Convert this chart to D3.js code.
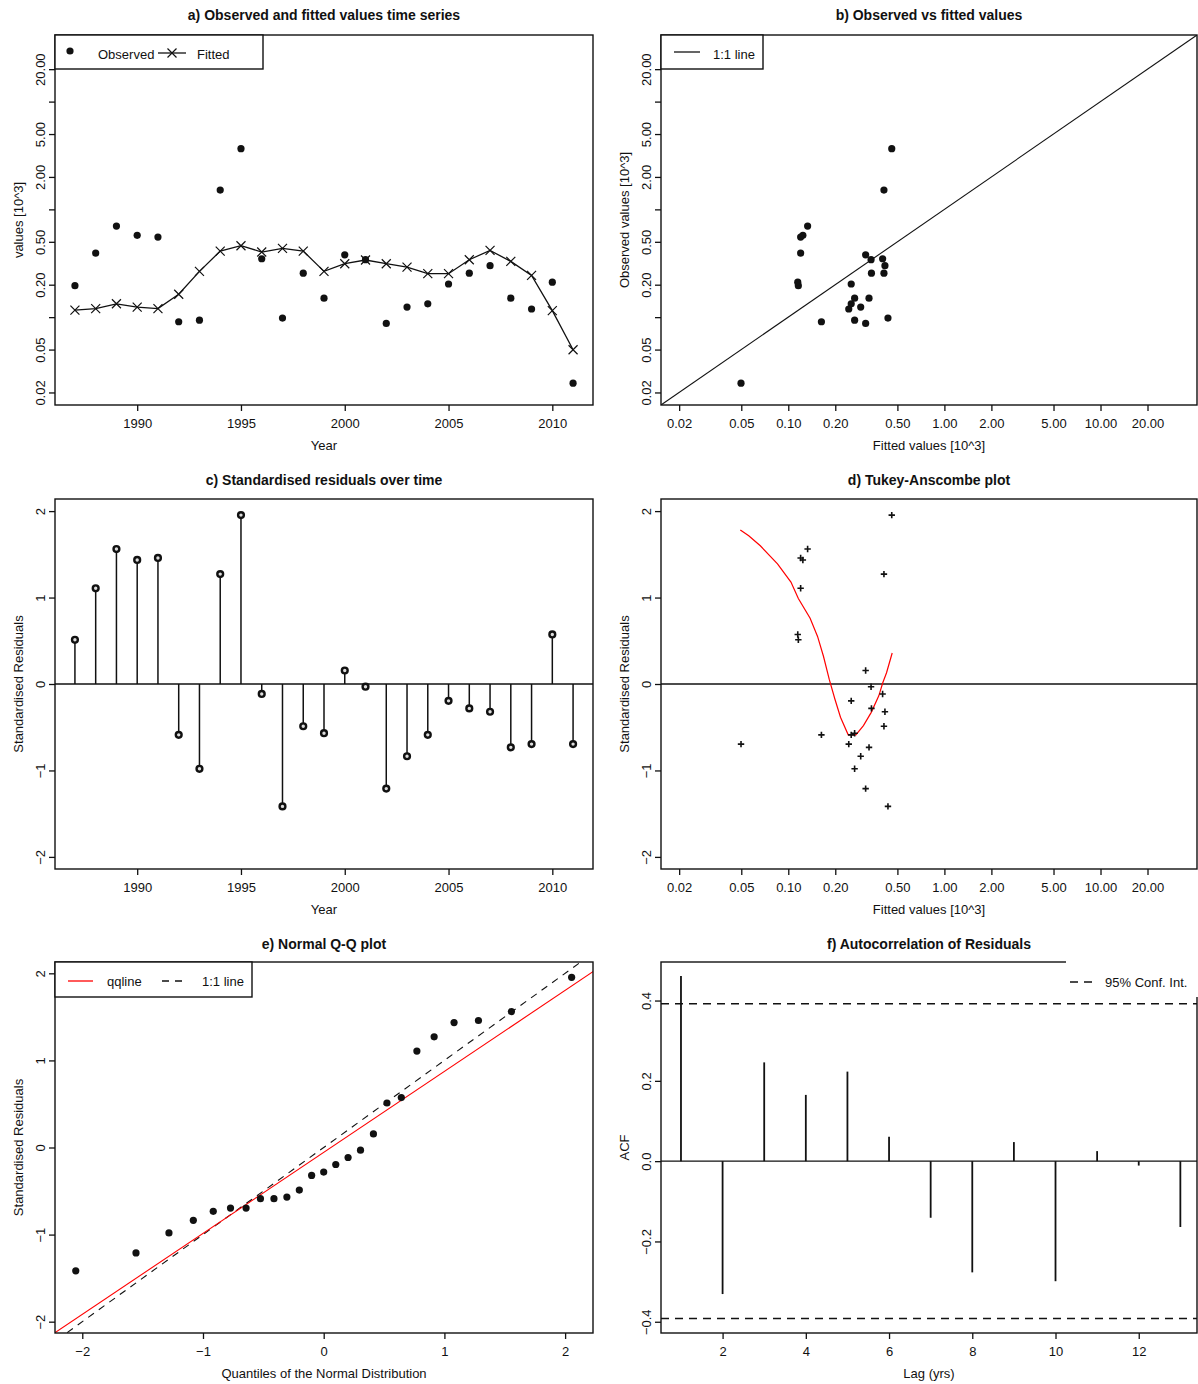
<!DOCTYPE html>
<html><head><meta charset="utf-8">
<script src="https://cdn.jsdelivr.net/npm/d3@7"></script>
<style>
body{margin:0;background:#fff;}
svg text{font-family:"Liberation Sans",Arial,sans-serif;fill:#111;}
</style></head><body>
<svg id="chart" width="1198" height="1384"></svg>
<script>
// ---------------- data ----------------
const years = [1987,1988,1989,1990,1991,1992,1993,1994,1995,1996,1997,1998,1999,2000,2001,2002,2003,2004,2005,2006,2007,2008,2009,2010,2011];
const observed = [0.196,0.393,0.70,0.574,0.553,0.0906,0.0937,1.51,3.66,0.348,0.098,0.256,0.150,0.379,0.341,0.0875,0.124,0.133,0.203,0.256,0.300,0.150,0.119,0.211,0.0244];
const fitted = [0.116,0.120,0.133,0.124,0.120,0.163,0.266,0.410,0.460,0.402,0.435,0.410,0.266,0.313,0.339,0.313,0.291,0.253,0.253,0.341,0.416,0.329,0.244,0.115,0.0498];
const residuals = [0.511,1.107,1.561,1.435,1.458,-0.588,-0.981,1.271,1.954,-0.115,-1.416,-0.489,-0.569,0.156,-0.031,-1.210,-0.836,-0.588,-0.195,-0.282,-0.321,-0.733,-0.695,0.573,-0.695];
const lowessX = [0.0493,0.0558,0.0662,0.0853,0.104,0.116,0.138,0.154,0.168,0.183,0.199,0.216,0.242,0.271,0.303,0.340,0.380,0.403,0.426,0.463];
const lowessY = [1.782,1.714,1.599,1.389,1.179,0.989,0.760,0.550,0.321,0.053,-0.176,-0.385,-0.588,-0.588,-0.481,-0.328,-0.137,0.015,0.130,0.359];
const normalQuantiles = [-2.054,-1.555,-1.282,-1.080,-0.915,-0.772,-0.643,-0.524,-0.412,-0.305,-0.202,-0.100,0,0.100,0.202,0.305,0.412,0.524,0.643,0.772,0.915,1.080,1.282,1.555,2.054];
const qqlineX = [-2.3,2.3];
const qqlineY = [-2.195,2.083];
const acfLags = [1,2,3,4,5,6,7,8,9,10,11,12,13];
const acfValues = [0.461,-0.331,0.246,0.165,0.223,0.061,-0.141,-0.277,0.0475,-0.299,0.025,-0.011,-0.164];
const confLimit = 0.392;

const logTicks = [0.02,0.05,0.1,0.2,0.5,1,2,5,10,20];
const logTicksLabelledY = [0.02,0.05,0.2,0.5,2,5,20];
const yearTicks = [1990,1995,2000,2005,2010];
const residTicks = [-2,-1,0,1,2];
const quantTicks = [-2,-1,0,1,2];
const lagTicks = [2,4,6,8,10,12];
const acfTicks = [-0.4,-0.2,0.0,0.2,0.4];

// ---------------- layout ----------------
const svg = d3.select("#chart");
const FS = 13;
const LEFT = {L:55, R:593}, RIGHT = {L:661, R:1197};
const ROWS = [{T:35,B:405,title:15},{T:499,B:869,title:480},{T:962,B:1333,title:944}];

let clipId = 0;
function frame(cols, row, title){
  const g = svg.append("g");
  const id = "clip" + (clipId++);
  svg.append("clipPath").attr("id", id).append("rect")
    .attr("x", cols.L).attr("y", row.T).attr("width", cols.R-cols.L).attr("height", row.B-row.T);
  g.append("text").attr("x",(cols.L+cols.R)/2).attr("y",row.title+5)
    .attr("text-anchor","middle").style("font-size","14px").style("font-weight","bold").text(title);
  const plot = g.append("g").attr("clip-path", `url(#${id})`);
  return {g, plot, L:cols.L, R:cols.R, T:row.T, B:row.B};
}
function box(p){
  p.g.append("rect").attr("x",p.L).attr("y",p.T).attr("width",p.R-p.L).attr("height",p.B-p.T)
    .attr("fill","none").attr("stroke","#111").attr("stroke-width",1.4);
}
function xAxis(p, scale, ticks, fmt, label){
  const ax = p.g.append("g").attr("transform",`translate(0,${p.B})`)
    .call(d3.axisBottom(scale).tickValues(ticks).tickFormat(fmt).tickSize(6).tickSizeOuter(0).tickPadding(8));
  ax.select(".domain").remove();
  ax.selectAll("line").attr("stroke","#111").attr("stroke-width",1.3);
  ax.selectAll("text").style("font-size",FS+"px").attr("fill","#111");
  p.g.append("text").attr("x",(p.L+p.R)/2).attr("y",p.B+45).attr("text-anchor","middle")
    .style("font-size",FS+"px").text(label);
}
function yAxis(p, scale, ticks, labelled, fmt, label, labelX){
  const ax = p.g.append("g").attr("transform",`translate(${p.L},0)`)
    .call(d3.axisLeft(scale).tickValues(ticks).tickFormat(d => labelled.includes(d) ? fmt(d) : "").tickSize(6).tickSizeOuter(0));
  ax.select(".domain").remove();
  ax.selectAll("line").attr("stroke","#111").attr("stroke-width",1.3);
  ax.selectAll("text").attr("transform","rotate(-90)").attr("x",0).attr("y",-10).attr("dy",0)
    .attr("text-anchor","middle").style("font-size",FS+"px").attr("fill","#111");
  p.g.append("text").attr("transform",`translate(${p.L-labelX},${(p.T+p.B)/2}) rotate(-90)`)
    .attr("text-anchor","middle").style("font-size",FS+"px").text(label);
}
const f2 = d3.format(".2f");
const LOGDOM = [0.0153, 41.5];

// ---------------- a) ----------------
{
  const p = frame(LEFT, ROWS[0], "a) Observed and fitted values time series");
  const x = d3.scaleLinear().domain([1986.04, 2011.96]).range([p.L, p.R]);
  const y = d3.scaleLog().domain(LOGDOM).range([p.B, p.T]);
  const line = d3.line().x((d,i)=>x(years[i])).y(d=>y(d));
  p.plot.append("path").datum(fitted).attr("d",line).attr("fill","none").attr("stroke","#111").attr("stroke-width",1.3);
  p.plot.selectAll(".fx").data(fitted).join("path")
    .attr("d",(d,i)=>{const cx=x(years[i]), cy=y(d), s=4.5; return `M${cx-s},${cy-s}L${cx+s},${cy+s}M${cx-s},${cy+s}L${cx+s},${cy-s}`;})
    .attr("stroke","#111").attr("stroke-width",1.2);
  p.plot.selectAll(".ob").data(observed).join("circle")
    .attr("cx",(d,i)=>x(years[i])).attr("cy",d=>y(d)).attr("r",3.6).attr("fill","#111");
  box(p);
  xAxis(p, x, yearTicks, d3.format("d"), "Year");
  yAxis(p, y, logTicks, logTicksLabelledY, f2, "values [10^3]", 32);
  // legend
  const lg = p.g.append("g");
  lg.append("rect").attr("x",p.L).attr("y",p.T).attr("width",208).attr("height",34)
    .attr("fill","#fff").attr("stroke","#111").attr("stroke-width",1.4);
  lg.append("circle").attr("cx",70).attr("cy",51).attr("r",3.6).attr("fill","#111");
  lg.append("text").attr("x",98).attr("y",59).style("font-size",FS+"px").text("Observed");
  lg.append("line").attr("x1",158).attr("x2",186).attr("y1",53).attr("y2",53).attr("stroke","#111").attr("stroke-width",1.3);
  lg.append("path").attr("d","M167.5,48.5L176.5,57.5M167.5,57.5L176.5,48.5").attr("stroke","#111").attr("stroke-width",1.2);
  lg.append("text").attr("x",197).attr("y",59).style("font-size",FS+"px").text("Fitted");
}

// ---------------- b) ----------------
{
  const p = frame(RIGHT, ROWS[0], "b) Observed vs fitted values");
  const x = d3.scaleLog().domain(LOGDOM).range([p.L, p.R]);
  const y = d3.scaleLog().domain(LOGDOM).range([p.B, p.T]);
  p.plot.append("line").attr("x1",x(LOGDOM[0])).attr("y1",y(LOGDOM[0])).attr("x2",x(LOGDOM[1])).attr("y2",y(LOGDOM[1]))
    .attr("stroke","#111").attr("stroke-width",1.1);
  p.plot.selectAll(".pt").data(observed).join("circle")
    .attr("cx",(d,i)=>x(fitted[i])).attr("cy",d=>y(d)).attr("r",3.6).attr("fill","#111");
  box(p);
  xAxis(p, x, logTicks, f2, "Fitted values [10^3]");
  yAxis(p, y, logTicks, logTicksLabelledY, f2, "Observed values [10^3]", 32);
  const lg = p.g.append("g");
  lg.append("rect").attr("x",p.L).attr("y",p.T).attr("width",102).attr("height",34)
    .attr("fill","#fff").attr("stroke","#111").attr("stroke-width",1.4);
  lg.append("line").attr("x1",674).attr("x2",700).attr("y1",52).attr("y2",52).attr("stroke","#111").attr("stroke-width",1.3);
  lg.append("text").attr("x",713).attr("y",59).style("font-size",FS+"px").text("1:1 line");
}

// ---------------- c) ----------------
{
  const p = frame(LEFT, ROWS[1], "c) Standardised residuals over time");
  const x = d3.scaleLinear().domain([1986.04, 2011.96]).range([p.L, p.R]);
  const y = d3.scaleLinear().domain([-2.14, 2.14]).range([p.B, p.T]);
  p.plot.append("line").attr("x1",p.L).attr("x2",p.R).attr("y1",y(0)).attr("y2",y(0)).attr("stroke","#111").attr("stroke-width",1.4);
  p.plot.selectAll(".st").data(residuals).join("line")
    .attr("x1",(d,i)=>x(years[i])).attr("x2",(d,i)=>x(years[i])).attr("y1",y(0)).attr("y2",d=>y(d))
    .attr("stroke","#111").attr("stroke-width",1.5);
  p.plot.selectAll(".pt").data(residuals).join("circle")
    .attr("cx",(d,i)=>x(years[i])).attr("cy",d=>y(d)).attr("r",2.9)
    .attr("fill","#ddd").attr("stroke","#111").attr("stroke-width",2.4);
  box(p);
  xAxis(p, x, yearTicks, d3.format("d"), "Year");
  yAxis(p, y, residTicks, residTicks, d3.format("d"), "Standardised Residuals", 32);
}

// ---------------- d) ----------------
{
  const p = frame(RIGHT, ROWS[1], "d) Tukey-Anscombe plot");
  const x = d3.scaleLog().domain(LOGDOM).range([p.L, p.R]);
  const y = d3.scaleLinear().domain([-2.14, 2.14]).range([p.B, p.T]);
  p.plot.append("line").attr("x1",p.L).attr("x2",p.R).attr("y1",y(0)).attr("y2",y(0)).attr("stroke","#111").attr("stroke-width",1.4);
  const lw = d3.line().x((d,i)=>x(lowessX[i])).y(d=>y(d));
  p.plot.append("path").datum(lowessY).attr("d",lw).attr("fill","none").attr("stroke","#f00").attr("stroke-width",1.2);
  p.plot.selectAll(".pt").data(residuals).join("path")
    .attr("d",(d,i)=>{const cx=x(fitted[i]), cy=y(d), s=3.2; return `M${cx-s},${cy}L${cx+s},${cy}M${cx},${cy-s}L${cx},${cy+s}`;})
    .attr("stroke","#111").attr("stroke-width",1.6);
  box(p);
  xAxis(p, x, logTicks, f2, "Fitted values [10^3]");
  yAxis(p, y, residTicks, residTicks, d3.format("d"), "Standardised Residuals", 32);
}

// ---------------- e) ----------------
{
  const p = frame(LEFT, ROWS[2], "e) Normal Q-Q plot");
  const x = d3.scaleLinear().domain([-2.226, 2.231]).range([p.L, p.R]);
  const y = d3.scaleLinear().domain([-2.13, 2.13]).range([p.B, p.T]);
  const sorted = residuals.slice().sort(d3.ascending);
  p.plot.append("line").attr("x1",x(-2.3)).attr("y1",y(-2.3)).attr("x2",x(2.3)).attr("y2",y(2.3))
    .attr("stroke","#111").attr("stroke-width",1.1).attr("stroke-dasharray","7,6");
  p.plot.append("line").attr("x1",x(qqlineX[0])).attr("y1",y(qqlineY[0])).attr("x2",x(qqlineX[1])).attr("y2",y(qqlineY[1]))
    .attr("stroke","#f00").attr("stroke-width",1.1);
  p.plot.selectAll(".pt").data(sorted).join("circle")
    .attr("cx",(d,i)=>x(normalQuantiles[i])).attr("cy",d=>y(d)).attr("r",3.6).attr("fill","#111");
  box(p);
  xAxis(p, x, quantTicks, d3.format("d"), "Quantiles of the Normal Distribution");
  yAxis(p, y, residTicks, residTicks, d3.format("d"), "Standardised Residuals", 32);
  const lg = p.g.append("g");
  lg.append("rect").attr("x",p.L).attr("y",p.T).attr("width",197).attr("height",35)
    .attr("fill","#fff").attr("stroke","#111").attr("stroke-width",1.4);
  lg.append("line").attr("x1",68).attr("x2",93).attr("y1",981).attr("y2",981).attr("stroke","#f00").attr("stroke-width",1.3);
  lg.append("text").attr("x",107).attr("y",986).style("font-size",FS+"px").text("qqline");
  lg.append("line").attr("x1",162).attr("x2",188).attr("y1",981).attr("y2",981).attr("stroke","#111").attr("stroke-width",1.3).attr("stroke-dasharray","7,6");
  lg.append("text").attr("x",202).attr("y",986).style("font-size",FS+"px").text("1:1 line");
}

// ---------------- f) ----------------
{
  const p = frame(RIGHT, ROWS[2], "f) Autocorrelation of Residuals");
  const x = d3.scaleLinear().domain([0.52, 13.4]).range([p.L, p.R]);
  const y = d3.scaleLinear().domain([-0.428, 0.496]).range([p.B, p.T]);
  p.plot.append("line").attr("x1",p.L).attr("x2",p.R).attr("y1",y(0)).attr("y2",y(0)).attr("stroke","#111").attr("stroke-width",1.4);
  [confLimit, -confLimit].forEach(c=>{
    p.plot.append("line").attr("x1",p.L).attr("x2",p.R).attr("y1",y(c)).attr("y2",y(c))
      .attr("stroke","#111").attr("stroke-width",1.4).attr("stroke-dasharray","8,6");
  });
  p.plot.selectAll(".bar").data(acfValues).join("line")
    .attr("x1",(d,i)=>x(acfLags[i])).attr("x2",(d,i)=>x(acfLags[i])).attr("y1",y(0)).attr("y2",d=>y(d))
    .attr("stroke","#111").attr("stroke-width",1.8);
  box(p);
  xAxis(p, x, lagTicks, d3.format("d"), "Lag (yrs)");
  yAxis(p, y, acfTicks, acfTicks, d3.format(".1f"), "ACF", 32);
  const lg = p.g.append("g");
  lg.append("rect").attr("x",1066).attr("y",955).attr("width",132).attr("height",42).attr("fill","#fff");
  lg.append("line").attr("x1",1070).attr("x2",1094).attr("y1",982).attr("y2",982).attr("stroke","#111").attr("stroke-width",1.4).attr("stroke-dasharray","8,6");
  lg.append("text").attr("x",1105).attr("y",987).style("font-size",FS+"px").text("95% Conf. Int.");
}
</script>
</body></html>
